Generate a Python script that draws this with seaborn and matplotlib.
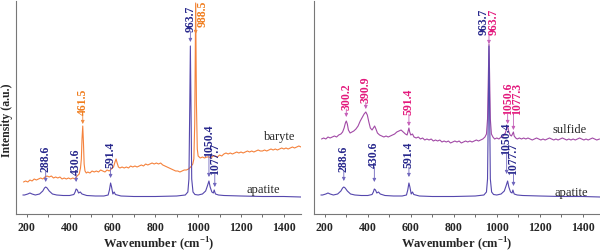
import numpy as np
import matplotlib
matplotlib.use("Agg")
import matplotlib.pyplot as plt
import seaborn as sns

# =========================
# Data (intensity in arbitrary units)
# =========================
apatite_wn = [182, 190, 205, 215, 225, 240, 260, 275, 283, 288.6, 295, 305, 320, 340, 370, 400,
              420, 426, 430.6, 436, 442, 450, 458, 480, 520, 560, 580, 586, 591.4, 596, 602, 608,
              614, 640, 700, 800, 900, 940, 952, 957, 961, 963.7, 966.5, 970, 976, 985, 1000,
              1020, 1035, 1043, 1050.4, 1056, 1064, 1071, 1075, 1077.7, 1081, 1095, 1120, 1200,
              1300, 1400, 1480]
apatite_int = [19, 19, 20, 21, 20, 19, 20, 23, 26, 27, 26, 23, 20, 19, 18.5, 18.5,
               19.5, 22, 25, 24, 21, 22, 20, 18.5, 18, 18, 19, 24, 31, 27, 20, 22,
               19.5, 18, 17.5, 17.5, 18, 19, 22, 35, 110, 168, 110, 35, 22, 19.5, 19,
               20, 23, 28, 33, 27, 22, 21, 24, 22, 20, 19, 18.5, 18,
               17.5, 17.5, 17]

baryte_wn = [185, 195, 205, 215, 225, 235, 245, 255, 265, 275, 285, 295, 305, 315, 325, 335,
             345, 355, 365, 375, 385, 395, 405, 415, 425, 435, 445, 451, 455, 458, 461.5, 465,
             468, 472, 478, 485, 495, 505, 515, 525, 535, 545, 555, 565, 575, 585, 595, 605,
             612, 617, 622, 628, 635, 645, 655, 665, 675, 685, 695, 705, 715, 725, 735, 745,
             755, 765, 775, 785, 795, 805, 815, 825, 835, 845, 855, 865, 875, 885, 895, 905,
             915, 925, 935, 945, 955, 965, 975, 980, 984, 988.5, 992, 996, 1000, 1010, 1020,
             1030, 1040, 1050, 1060, 1070, 1080, 1090, 1100, 1110, 1120, 1130, 1140, 1150,
             1160, 1170, 1180, 1190, 1200, 1210, 1220, 1230, 1240, 1250, 1260, 1270, 1280,
             1290, 1300, 1310, 1320, 1330, 1340, 1350, 1360, 1370, 1380, 1390, 1400, 1410,
             1420, 1430, 1440, 1450, 1460, 1470, 1480]
baryte_int = [32, 33, 32, 34, 33, 35, 34, 35, 36, 35, 37, 38, 37, 38, 36, 37,
              36, 37, 35, 36, 35, 36, 35, 36, 35, 38, 40, 46, 55, 75, 88, 70,
              50, 43, 41, 42, 41, 43, 42, 43, 42, 44, 43, 42, 44, 43, 45, 47,
              52, 55, 51, 47, 46, 47, 46, 47, 46, 48, 47, 48, 47, 48, 49, 48,
              50, 49, 50, 51, 50, 51, 50, 51, 49, 48, 47, 46, 45, 44, 43, 43,
              42, 43, 44, 44, 45, 47, 50, 55, 90, 211, 110, 65, 58, 56, 57,
              56, 57, 57, 56, 58, 58, 57, 59, 58, 60, 61, 60, 61,
              60, 61, 62, 61, 62, 61, 62, 63, 62, 63, 62, 63, 64,
              63, 63, 64, 63, 64, 65, 64, 65, 64, 65, 66, 65, 66,
              65, 66, 67, 66, 67, 68, 67]

sulfide_wn = [185, 195, 205, 215, 225, 235, 245, 255, 265, 275, 283, 290, 296, 300.2, 305, 310,
              318, 326, 335, 345, 355, 365, 375, 383, 390.9, 398, 405, 412, 420, 426, 432, 438,
              445, 455, 465, 475, 485, 495, 505, 515, 525, 535, 545, 555, 565, 575, 583, 588,
              591.4, 595, 600, 608, 615, 625, 635, 645, 655, 665, 675, 685, 695, 705, 715, 725,
              735, 745, 755, 765, 775, 785, 795, 805, 815, 825, 835, 845, 855, 865, 875, 885,
              895, 905, 915, 925, 935, 945, 952, 957, 961, 963.7, 966.5, 970, 975, 982, 990,
              1000, 1010, 1020, 1030, 1040, 1046, 1050.6, 1055, 1062, 1068, 1073, 1077.3, 1081,
              1088, 1095, 1105, 1115, 1125, 1135, 1145, 1155, 1165, 1175, 1185, 1195, 1205,
              1215, 1225, 1235, 1245, 1255, 1265, 1275, 1285, 1295, 1305, 1315, 1325, 1335,
              1345, 1355, 1365, 1375, 1385, 1395, 1405, 1415, 1425, 1435, 1445, 1455, 1465, 1478]
sulfide_int = [75, 76, 75, 77, 76, 77, 78, 77, 79, 80, 82, 86, 91, 93, 90, 84,
               81, 82, 83, 85, 88, 93, 97, 100, 102, 99, 92, 86, 84, 86, 88, 85,
               81, 79, 78, 77, 78, 77, 78, 79, 80, 82, 83, 84, 82, 80, 79, 83,
               86, 82, 79, 80, 77, 76, 77, 75, 76, 74, 75, 74, 75, 73, 74, 73,
               74, 72, 73, 72, 73, 71, 72, 73, 72, 73, 71, 72, 73, 72, 73, 72,
               73, 74, 73, 74, 75, 77, 80, 95, 140, 170, 140, 95, 80, 77, 75,
               76, 75, 77, 78, 81, 86, 88, 83, 79, 78, 80, 82, 78,
               76, 75, 76, 75, 76, 75, 76, 75, 74, 75, 76, 75, 74,
               75, 74, 75, 76, 75, 74, 75, 74, 75, 76, 75, 74, 75,
               74, 75, 74, 75, 76, 75, 74, 75, 74, 75, 76, 75, 74, 75]

# peak labels: text, peak position, label offset (wn), text base, arrow tip, colour key
left_labels = [("288.6", 288.6, 0, 43, 32, "navy"),
               ("430.6", 430.6, 0, 40, 32, "navy"),
               ("461.5", 461.5, 0, 100, 90, "orange"),
               ("591.4", 591.4, 0, 47, 36, "navy"),
               ("963.7", 963.7, 0, 183, 172, "navy"),
               ("1050.4", 1050.4, 0, 58, 37, "navy"),
               ("1077.7", 1077.7, 0, 40, 27, "navy")]
right_labels = [("288.6", 288.6, 0, 43, 33, "navy"),
                ("430.6", 430.6, 0, 47, 32, "navy"),
                ("591.4", 591.4, 0, 47, 37, "navy"),
                ("1050.4", 1046, -4, 60, 40, "navy"),
                ("1077.7", 1077.7, 0, 40, 28, "navy"),
                ("300.2", 300.2, 0, 105, 97, "pink"),
                ("390.9", 390.9, 0, 112, 105, "pink"),
                ("591.4", 591.4, 0, 100, 88, "pink"),
                ("1050.6", 1050.6, 0, 100, 90, "pink"),
                ("1077.3", 1077.3, 18, 100, 84, "pink")]

colors = {"navy": "#27278c", "orange": "#f07d1e", "pink": "#e3187c"}
arrow_colors = {"navy": "#6f66bd", "orange": "#f08a40", "pink": "#c560b8"}

# =========================
# Style
# =========================
sns.set_style("ticks")
plt.rcParams['font.family'] = ['Liberation Serif', 'DejaVu Serif']
plt.rcParams['mathtext.fontset'] = 'custom'
plt.rcParams['mathtext.rm'] = 'Liberation Serif:bold'
plt.rcParams['mathtext.bf'] = 'Liberation Serif:bold'

fig = plt.figure(figsize=(6, 2.51), dpi=100)
ax1 = fig.add_axes([16 / 600, 36 / 251, 285 / 600, 213 / 251])
ax2 = fig.add_axes([314 / 600, 36 / 251, 286 / 600, 213 / 251])

sns.lineplot(x=baryte_wn, y=baryte_int, ax=ax1, color="#f5823c", lw=0.8,
             sort=False, estimator=None)
sns.lineplot(x=apatite_wn, y=apatite_int, ax=ax1, color="#5547ad", lw=0.8,
             sort=False, estimator=None)
sns.lineplot(x=sulfide_wn, y=sulfide_int, ax=ax2, color="#a24aa6", lw=0.8,
             sort=False, estimator=None)
sns.lineplot(x=apatite_wn, y=apatite_int, ax=ax2, color="#5547ad", lw=0.8,
             sort=False, estimator=None)


def put_label(ax, text, x, dx, base, tip, c):
    # text above, arrow straight down to the peak
    ax.annotate("", xy=(x, tip), xytext=(x, base),
                arrowprops=dict(arrowstyle='-|>', color=arrow_colors[c], lw=0.6,
                                mutation_scale=5, shrinkA=0, shrinkB=0))
    ax.text(x + dx, base, text, rotation=90, ha='center', va='bottom', fontsize=8.5,
            fontweight='bold', color=colors[c])


for lab in left_labels:
    put_label(ax1, *lab)
for lab in right_labels:
    put_label(ax2, *lab)

# 988.5 label sits next to its peak, with the arrow on the peak line
ax1.annotate("", xy=(988.5, 180), xytext=(988.5, 210),
             arrowprops=dict(arrowstyle='-|>', color=arrow_colors["orange"], lw=0.6,
                             mutation_scale=5, shrinkA=0, shrinkB=0))
ax1.text(1020, 188, "988.5", rotation=90, ha='center', va='bottom', fontsize=8.5,
         fontweight='bold', color=colors["orange"])

# shared 963.7 on the right panel
ax2.annotate("", xy=(963.7, 170), xytext=(963.7, 180),
             arrowprops=dict(arrowstyle='-|>', color=arrow_colors["pink"], lw=0.6,
                             mutation_scale=5, shrinkA=0, shrinkB=0))
ax2.text(940, 180, "963.7", rotation=90, ha='center', va='bottom', fontsize=8.5,
         fontweight='bold', color=colors["navy"])
ax2.text(985, 180, "963.7", rotation=90, ha='center', va='bottom', fontsize=8.5,
         fontweight='bold', color=colors["pink"])

# sample names
ax1.text(1380, 78, "baryte", ha='center', va='center', fontsize=9)
ax1.text(1306, 25, "apatite", ha='center', va='center', fontsize=9)
ax2.text(1340, 85, "sulfide", ha='center', va='center', fontsize=9)
ax2.text(1344, 22, "apatite", ha='center', va='center', fontsize=9)

for ax in (ax1, ax2):
    ax.set_xlim(150, 1480)
    ax.set_ylim(0, 213)
    ax.set_yticks([])
    ax.set_xticks([200, 400, 600, 800, 1000, 1200, 1400])
    ax.set_xticks(np.arange(300, 1480, 200), minor=True)
    ax.tick_params(axis='x', which='both', direction='out', length=2, width=0.6,
                   color='#555555', pad=3, labelsize=8.5)
    for t in ax.get_xticklabels():
        t.set_fontweight('bold')
    sns.despine(ax=ax)
    for s in ('left', 'bottom'):
        ax.spines[s].set_color('#777777')
        ax.spines[s].set_linewidth(0.8)
    ax.set_xlabel("Wavenumber (cm$^{-1}$)", fontsize=9, fontweight='bold', labelpad=1)
    ax.set_ylabel("")
    ax.patch.set_alpha(0)

fig.text(7 / 600, 1 - 120 / 251, "Intensity (a.u.)", rotation=90, ha='center',
         va='center', fontsize=8.5, fontweight='bold')

plt.savefig("out.png", dpi=100)
